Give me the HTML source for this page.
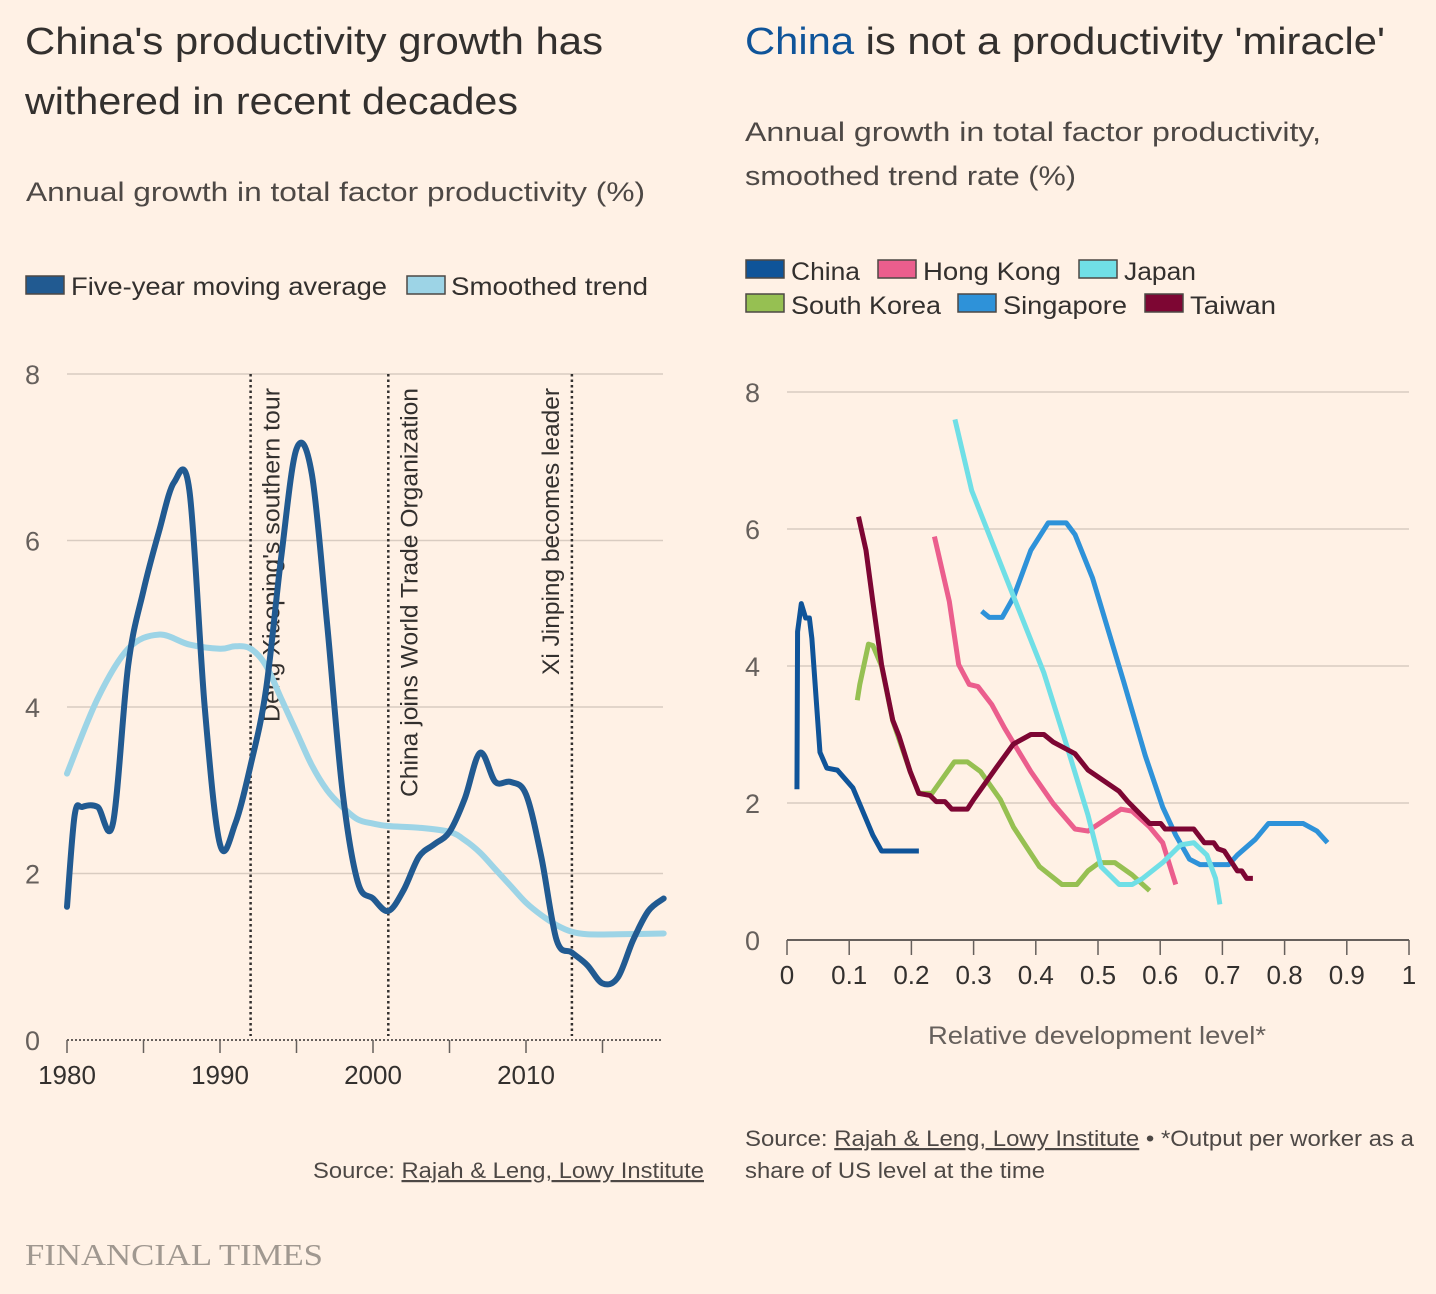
<!DOCTYPE html>
<html><head><meta charset="utf-8"><style>
html,body{margin:0;padding:0;background:#fff1e5;}
svg{display:block;font-family:"Liberation Sans",sans-serif;}
</style></head><body>
<svg id="s" width="1436" height="1294" viewBox="0 0 1436 1294" xmlns="http://www.w3.org/2000/svg">
<rect width="1436" height="1294" fill="#fff1e5"/>
<g fill="#33302e">
<text x="25" y="54" font-size="38" textLength="578" lengthAdjust="spacingAndGlyphs">China's productivity growth has</text>
<text x="25" y="114" font-size="38" textLength="493" lengthAdjust="spacingAndGlyphs">withered in recent decades</text>
<text x="26" y="201" font-size="27" fill="#4d4845" textLength="619" lengthAdjust="spacingAndGlyphs">Annual growth in total factor productivity (%)</text>
<text x="745" y="54" font-size="38" textLength="640" lengthAdjust="spacingAndGlyphs"><tspan fill="#0f5499">China</tspan> is not a productivity 'miracle'</text>
<text x="745" y="141" font-size="27" fill="#4d4845" textLength="576" lengthAdjust="spacingAndGlyphs">Annual growth in total factor productivity,</text>
<text x="745" y="185" font-size="27" fill="#4d4845" textLength="331" lengthAdjust="spacingAndGlyphs">smoothed trend rate (%)</text>
</g>
<g font-size="25" fill="#33302e">
<rect x="26" y="276" width="38" height="18" fill="#215a91" stroke="#4d4845" stroke-width="1.5"/>
<text x="71" y="295" textLength="316" lengthAdjust="spacingAndGlyphs">Five-year moving average</text>
<rect x="407" y="276" width="38" height="18" fill="#9dd4e6" stroke="#4d4845" stroke-width="1.5"/>
<text x="451" y="295" textLength="197" lengthAdjust="spacingAndGlyphs">Smoothed trend</text>
</g>
<g id="rleg" font-size="25" fill="#33302e"></g>
<g id="left"></g>
<g id="right"></g>
<g font-size="22" fill="#4d4845">
<text x="313" y="1178" textLength="391" lengthAdjust="spacingAndGlyphs">Source: <tspan text-decoration="underline">Rajah &amp; Leng, Lowy Institute</tspan></text>
<text x="745" y="1146" textLength="669" lengthAdjust="spacingAndGlyphs">Source: <tspan text-decoration="underline">Rajah &amp; Leng, Lowy Institute</tspan> • *Output per worker as a</text>
<text x="745" y="1178" textLength="300" lengthAdjust="spacingAndGlyphs">share of US level at the time</text>
</g>
<text x="25" y="1265" font-family="Liberation Serif,serif" font-size="31" fill="#a09890" textLength="298" lengthAdjust="spacingAndGlyphs">FINANCIAL TIMES</text>
</svg>
<script>
// ---- left chart data
const years = [1980,1980.5,1981,1982,1983,1984,1985,1986,1987,1988,1989,1990,1991,1992,1993,1994,1995,1996,1997,1998,1999,2000,2001,2002,2003,2004,2005,2006,2007,2008,2009,2010,2011,2012,2013,2014,2015,2016,2017,2018,2019];
const fiveYearAvg = [1.6,2.7,2.8,2.8,2.6,4.5,5.4,6.1,6.7,6.6,4.0,2.35,2.6,3.3,4.2,5.8,7.1,6.8,5.0,3.0,1.9,1.7,1.55,1.8,2.2,2.35,2.5,2.9,3.45,3.1,3.1,2.95,2.2,1.2,1.05,0.9,0.68,0.75,1.2,1.55,1.7];
const trendYears = [1980,1982,1984,1986,1988,1990,1991,1992,1993,1994,1995,1996,1997,1998,1999,2000,2001,2003,2005,2006,2007,2008,2009,2010,2011,2012,2013,2014,2016,2019];
const smoothedTrend = [3.2,4.1,4.7,4.87,4.75,4.7,4.73,4.7,4.5,4.1,3.7,3.3,3.0,2.8,2.65,2.6,2.57,2.55,2.5,2.4,2.25,2.05,1.85,1.65,1.5,1.38,1.3,1.27,1.27,1.28];
const leftYTicks = [0,2,4,6,8];
const leftXLabels = [1980,1990,2000,2010];
const eventYears = [1992,2001,2013];
const eventLabels = ["Deng Xiaoping's southern tour","China joins World Trade Organization","Xi Jinping becomes leader"];

// ---- right chart data
const rightYTicks = [0,2,4,6,8];
const rightXTicks = [0,0.1,0.2,0.3,0.4,0.5,0.6,0.7,0.8,0.9,1];
const seriesNames = ["China","Hong Kong","Japan","South Korea","Singapore","Taiwan"];
const chinaX = [0.016,0.017,0.023,0.03,0.036,0.04,0.053,0.064,0.081,0.106,0.138,0.152,0.212];
const chinaY = [2.2,4.5,4.91,4.7,4.7,4.4,2.74,2.51,2.48,2.22,1.53,1.3,1.3];
const hongKongX = [0.237,0.261,0.276,0.293,0.307,0.329,0.35,0.392,0.428,0.463,0.484,0.512,0.537,0.555,0.583,0.604,0.625];
const hongKongY = [5.89,4.94,4.02,3.73,3.7,3.44,3.09,2.46,1.99,1.62,1.59,1.76,1.91,1.88,1.65,1.42,0.81];
const japanX = [0.27,0.297,0.35,0.413,0.449,0.484,0.505,0.534,0.555,0.572,0.604,0.633,0.654,0.675,0.689,0.696];
const japanY = [7.6,6.56,5.34,3.9,2.86,1.82,1.07,0.81,0.81,0.9,1.13,1.39,1.42,1.24,0.9,0.52];
const koreaX = [0.113,0.117,0.131,0.138,0.152,0.17,0.198,0.212,0.233,0.251,0.269,0.29,0.311,0.343,0.364,0.406,0.442,0.466,0.484,0.502,0.527,0.555,0.583];
const koreaY = [3.5,3.73,4.32,4.3,4.0,3.2,2.46,2.14,2.14,2.37,2.6,2.6,2.46,2.05,1.65,1.07,0.81,0.81,1.01,1.13,1.13,0.95,0.72];
const singaporeX = [0.313,0.325,0.346,0.364,0.392,0.42,0.449,0.463,0.491,0.541,0.576,0.604,0.625,0.647,0.664,0.71,0.724,0.753,0.774,0.83,0.852,0.869];
const singaporeY = [4.8,4.71,4.71,5.0,5.69,6.09,6.09,5.92,5.29,3.78,2.69,1.94,1.53,1.18,1.1,1.1,1.24,1.47,1.7,1.7,1.59,1.42];
const taiwanX = [0.115,0.127,0.138,0.152,0.17,0.18,0.198,0.212,0.23,0.24,0.254,0.265,0.29,0.3,0.336,0.364,0.392,0.413,0.428,0.463,0.484,0.534,0.548,0.583,0.601,0.608,0.654,0.671,0.686,0.693,0.703,0.724,0.731,0.739,0.749];
const taiwanY = [6.18,5.69,4.94,4.02,3.21,2.98,2.46,2.14,2.11,2.02,2.02,1.91,1.91,2.05,2.51,2.86,3.0,3.0,2.89,2.72,2.48,2.17,2.02,1.7,1.7,1.62,1.62,1.42,1.42,1.33,1.3,1.01,1.01,0.9,0.9];

const NS="http://www.w3.org/2000/svg";
function mk(tag,parent,attrs){const e=document.createElementNS(NS,tag);for(const k in attrs)e.setAttribute(k,attrs[k]);parent.appendChild(e);return e;}
function smooth(pts){let d="M"+pts[0][0]+","+pts[0][1];for(let i=0;i<pts.length-1;i++){const p0=pts[Math.max(0,i-1)],p1=pts[i],p2=pts[i+1],p3=pts[Math.min(pts.length-1,i+2)];const c1=[p1[0]+(p2[0]-p0[0])/6,p1[1]+(p2[1]-p0[1])/6],c2=[p2[0]-(p3[0]-p1[0])/6,p2[1]-(p3[1]-p1[1])/6];d+=" C"+c1+" "+c2+" "+p2;}return d;}

// ---- left chart
const L=document.getElementById('left');
const lx=y=>67+(y-1980)*15.3, ly=v=>1040-v*83.25;
leftYTicks.forEach(t=>{
  if(t>0){const g=mk('line',L,{x1:67,x2:663,y1:ly(t),y2:ly(t),stroke:'#d9ccc1','stroke-width':1.5});
  }
  const tx=mk('text',L,{x:25,y:ly(t)+10,'font-size':27,fill:'#66605c'});tx.textContent=t;
  
});
const base=mk('line',L,{x1:67,x2:663,y1:1040,y2:1040,stroke:'#66605c','stroke-width':2,'stroke-dasharray':'2,2'});

for(let y=1980;y<=2015;y+=5){const t=mk('line',L,{x1:lx(y),x2:lx(y),y1:1040,y2:1053,stroke:'#66605c','stroke-width':1.5});
  }
leftXLabels.forEach(y=>{const t=mk('text',L,{x:lx(y),y:1084,'font-size':26,fill:'#33302e','text-anchor':'middle'});t.textContent=y;
  });
const labelOffsets=[29,29,-13];
const labelLens=[334,409,287];
eventYears.forEach((y,i)=>{
  const l=mk('line',L,{x1:lx(y),x2:lx(y),y1:374,y2:1036,stroke:'#33302e','stroke-width':2.5,'stroke-dasharray':'2.5,3'});
  
  const t=mk('text',L,{transform:`translate(${lx(y)+labelOffsets[i]},388) rotate(-90)`,'font-size':24,fill:'#33302e','text-anchor':'end',textLength:labelLens[i],lengthAdjust:'spacingAndGlyphs'});t.textContent=eventLabels[i];
  
});
const tp=mk('path',L,{d:smooth(trendYears.map((y,i)=>[lx(y),ly(smoothedTrend[i])])),fill:'none',stroke:'#9dd4e6','stroke-width':6,'stroke-linecap':'round'});

const fp=mk('path',L,{d:smooth(years.map((y,i)=>[lx(y),ly(fiveYearAvg[i])])),fill:'none',stroke:'#215a91','stroke-width':6,'stroke-linecap':'round','stroke-linejoin':'round'});


// ---- right chart
const R=document.getElementById('right');
const rx=v=>787+v*622, ry=v=>940-v*68.5;
rightYTicks.forEach(t=>{
  if(t>0){const g=mk('line',R,{x1:787,x2:1409,y1:ry(t),y2:ry(t),stroke:'#d9ccc1','stroke-width':1.5});
  }
  const tx=mk('text',R,{x:745,y:ry(t)+10,'font-size':27,fill:'#66605c'});tx.textContent=t;
  
});
const rb=mk('line',R,{x1:787,x2:1409,y1:940,y2:940,stroke:'#66605c','stroke-width':2});

rightXTicks.forEach(v=>{
  const t=mk('line',R,{x1:rx(v),x2:rx(v),y1:940,y2:955,stroke:'#66605c','stroke-width':1.5});
  
  const tl=mk('text',R,{x:rx(v),y:984,'font-size':26,fill:'#33302e','text-anchor':'middle'});tl.textContent=String(v);
  
});
const xt=mk('text',R,{x:1097,y:1044,'font-size':25,fill:'#66605c','text-anchor':'middle',textLength:338,lengthAdjust:'spacingAndGlyphs'});xt.textContent='Relative development level*';

const colors={"China":"#0f5499","Hong Kong":"#eb5e8d","Japan":"#70dfe6","South Korea":"#96c052","Singapore":"#2e92d9","Taiwan":"#7d0633"};
const seriesData=[["South Korea",koreaX,koreaY],["Hong Kong",hongKongX,hongKongY],["Singapore",singaporeX,singaporeY],["Japan",japanX,japanY],["China",chinaX,chinaY],["Taiwan",taiwanX,taiwanY]];
seriesData.forEach(([n,xs,ys])=>{
  const p=mk('polyline',R,{points:xs.map((x,i)=>rx(x)+','+ry(ys[i])).join(' '),fill:'none',stroke:colors[n],'stroke-width':5,'stroke-linejoin':'round'});
  
});
// right legend
const RL=document.getElementById('rleg');
const legPos=[[746,260,791,280,69],[878,260,923,280,138],[1079,260,1124,280,72],[746,294,791,314,150],[958,294,1003,314,124],[1145,294,1190,314,86]];
seriesNames.forEach((n,i)=>{
  const [sx,sy,tx,ty,tw]=legPos[i];
  const r=mk('rect',RL,{x:sx,y:sy,width:38,height:18,fill:colors[n],stroke:'#4d4845','stroke-width':1.5});
  
  const t=mk('text',RL,{x:tx,y:ty,textLength:tw,lengthAdjust:'spacingAndGlyphs'});t.textContent=n;
  
});
</script>
</body></html>
